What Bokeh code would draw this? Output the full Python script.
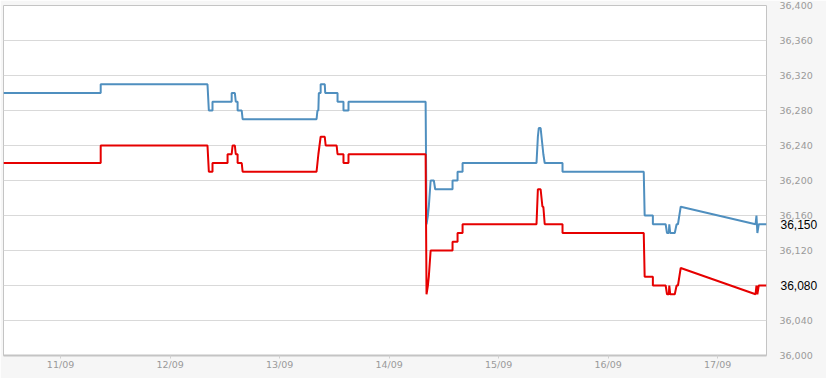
from bokeh.plotting import figure
from bokeh.models import Range1d, LinearAxis, FixedTicker, NumeralTickFormatter
from bokeh.embed import file_html
from bokeh.resources import INLINE

# hours since 11/09 00:00
blue_t = [-12.5, 8.8, 8.8, 32.2, 32.5, 33.3, 33.3, 37.5, 37.5, 38.2, 38.4, 38.8, 38.8, 39.7, 39.9,
          56.1, 56.3, 56.5, 56.6, 57.0, 57.0, 57.9, 58.0, 60.7, 60.7, 62.0, 62.0, 63.1, 63.1,
          80.0, 80.2, 80.5, 80.7, 81.1, 81.8, 82.1, 85.9, 85.9, 87.0, 87.0, 88.1, 88.1,
          104.3, 104.6, 104.8, 105.2, 105.4, 105.6, 105.8, 106.1, 110.0, 110.0,
          127.8, 128.0, 129.8, 129.8, 132.6, 132.9, 133.3, 133.4, 133.6, 134.6, 135.0, 135.3, 135.9,
          152.3, 152.5, 152.7, 153.0, 154.7]
blue_v = [36300, 36300, 36310, 36310, 36280, 36280, 36290, 36290, 36300, 36300, 36290, 36290, 36280, 36280, 36270,
          36270, 36280, 36280, 36300, 36300, 36310, 36310, 36300, 36300, 36290, 36290, 36280, 36280, 36290,
          36290, 36150, 36160, 36170, 36200, 36200, 36190, 36190, 36200, 36200, 36210, 36210, 36220,
          36220, 36250, 36260, 36260, 36250, 36240, 36230, 36220, 36220, 36210,
          36210, 36160, 36160, 36150, 36150, 36140, 36140, 36150, 36140, 36140, 36150, 36150, 36170,
          36150, 36160, 36140, 36150, 36150]

red_t = [-12.5, 8.8, 8.8, 32.2, 32.5, 33.3, 33.3, 36.6, 36.6, 37.5, 37.7, 38.2, 38.4, 38.8, 38.8, 39.7, 39.9,
         56.1, 56.3, 56.5, 57.0, 57.9, 58.1, 60.5, 60.7, 62.0, 62.0, 63.1, 63.1,
         80.0, 80.2, 80.5, 80.7, 81.1, 85.9, 85.9, 87.0, 87.0, 88.1, 88.1,
         104.3, 104.6, 105.2, 105.4, 105.6, 105.8, 106.1, 110.0, 110.0,
         127.8, 128.0, 129.8, 129.8, 132.6, 132.9, 133.3, 133.4, 133.6, 134.6, 135.0, 135.3, 135.9,
         152.3, 152.5, 152.7, 153.0, 154.7]
red_v = [36220, 36220, 36240, 36240, 36210, 36210, 36220, 36220, 36230, 36230, 36240, 36240, 36230, 36230, 36220, 36220, 36210,
         36210, 36220, 36230, 36250, 36250, 36240, 36240, 36230, 36230, 36220, 36220, 36230,
         36230, 36070, 36080, 36090, 36120, 36120, 36130, 36130, 36140, 36140, 36150,
         36150, 36190, 36190, 36180, 36170, 36170, 36150, 36150, 36140,
         36140, 36090, 36090, 36080, 36080, 36070, 36070, 36080, 36070, 36070, 36080, 36080, 36100,
         36070, 36080, 36070, 36080, 36080]

x_ticks = [0, 24, 48, 72, 96, 120, 144]
x_labels = ["11/09", "12/09", "13/09", "14/09", "15/09", "16/09", "17/09"]
y_ticks = [36000, 36040, 36080, 36120, 36160, 36200, 36240, 36280, 36320, 36360, 36400]
last_values = [blue_v[-1], red_v[-1]]

p = figure(width=826, height=378, output_backend="svg", toolbar_location=None,
           x_range=Range1d(-12.5, 154.7), y_range=Range1d(36000, 36400),
           y_axis_location=None, min_border_left=3, min_border_top=5,
           min_border_right=60, min_border_bottom=23)
p.border_fill_color = "#f6f6f6"
p.background_fill_color = "white"
p.outline_line_color = "#c4c4c4"
p.outline_line_width = 1

yax = LinearAxis(ticker=FixedTicker(ticks=y_ticks), formatter=NumeralTickFormatter(format="0,0"))
yax.axis_line_color = None
yax.major_tick_line_color = None
yax.major_tick_out = 0
yax.major_tick_in = 0
yax.minor_tick_line_color = None
yax.minor_tick_out = 0
yax.major_label_standoff = 13
yax.major_label_text_font = "DejaVu Sans"
yax.major_label_text_font_size = "9.5px"
yax.major_label_text_color = "#9a9a9a"
# a gridline label that coincides with a last-value label is covered by it
yax.major_label_overrides = {t: "" for t in y_ticks if t in last_values}
p.add_layout(yax, "right")

# last-value labels drawn as a second right axis pulled back over the first one
lax = LinearAxis(ticker=FixedTicker(ticks=last_values), formatter=NumeralTickFormatter(format="0,0"))
lax.axis_line_color = None
lax.major_tick_line_color = None
lax.major_tick_out = 0
lax.major_tick_in = 0
lax.minor_tick_line_color = None
lax.minor_tick_out = 0
lax.major_label_standoff = -35
lax.major_label_text_font = "Liberation Sans"
lax.major_label_text_font_size = "12px"
lax.major_label_text_color = "black"
p.add_layout(lax, "right")

xax = p.xaxis[0]
xax.ticker = FixedTicker(ticks=x_ticks)
xax.major_label_overrides = dict(zip(x_ticks, x_labels))
xax.axis_line_color = "#c4c4c4"
xax.axis_line_width = 2
xax.major_tick_line_color = "#d0d0d0"
xax.major_tick_in = 0
xax.major_tick_out = 3
xax.minor_tick_line_color = None
xax.major_label_standoff = 0
xax.major_label_text_font = "DejaVu Sans"
xax.major_label_text_font_size = "9.5px"
xax.major_label_text_color = "#9a9a9a"

p.xgrid.grid_line_color = None
p.ygrid.ticker = FixedTicker(ticks=y_ticks)
p.ygrid.grid_line_color = "#d9d9d9"
p.ygrid.grid_line_width = 1

p.line(blue_t, blue_v, line_color="#4f8fbf", line_width=2)
p.line(red_t, red_v, line_color="#e60000", line_width=2)

open("out.html", "w").write(file_html(p, INLINE))
